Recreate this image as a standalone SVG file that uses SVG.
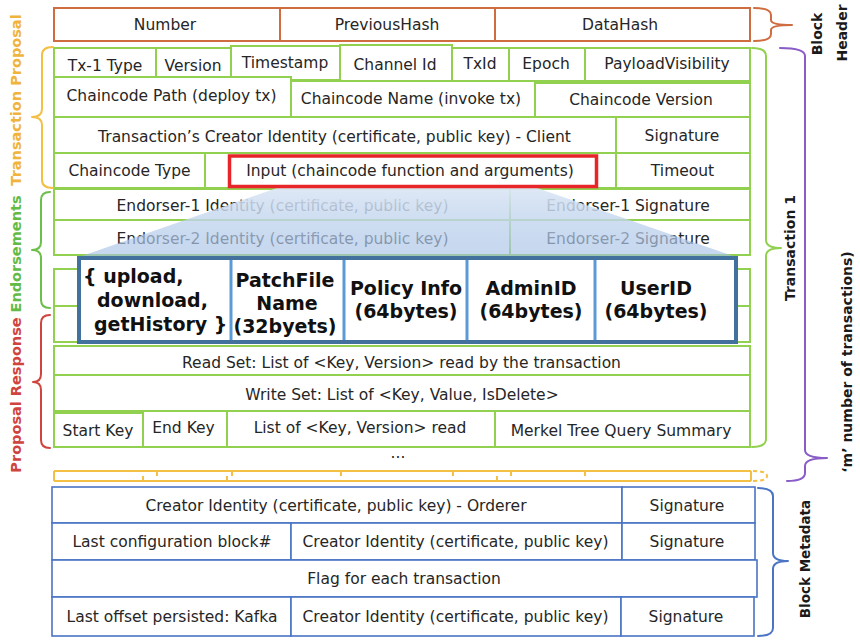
<svg xmlns="http://www.w3.org/2000/svg" width="860" height="642" viewBox="0 0 860 642">
<defs>
  <linearGradient id="zoomFill" x1="0" y1="0" x2="0" y2="1">
    <stop offset="0" stop-color="#dce7f5" stop-opacity="0.93"/>
    <stop offset="1" stop-color="#a3bfe5" stop-opacity="0.62"/>
  </linearGradient>
  <style>
    .cell{fill:#fff;stroke-width:2}
    .hdr{stroke:#cf6c40}
    .tx{stroke:#92d050}
    .meta{stroke:#4a74c4;stroke-width:1.6}
    text{font-family:"DejaVu Sans","Liberation Sans",sans-serif;font-size:15.5px;fill:#262626;text-anchor:middle}
    .big{font-weight:bold;font-size:19px;fill:#111}
    .st{text-anchor:start}
    .lbl{font-weight:bold;font-size:14.5px}
    .rl{font-weight:bold;font-size:14px;fill:#1a1a1a}
    .brace{fill:none;stroke-width:2;stroke-linecap:round;stroke-linejoin:round}
  </style>
</defs>
<rect width="860" height="642" fill="#fff"/>

<!-- Block header -->
<g id="block-header">
  <g id="hdr-number"><rect class="cell hdr" x="54" y="8" width="226" height="33"/><text x="165" y="30">Number</text></g>
  <g id="hdr-prevhash"><rect class="cell hdr" x="280" y="8" width="215" height="33"/><text x="387" y="30">PreviousHash</text></g>
  <g id="hdr-datahash"><rect class="cell hdr" x="495" y="8" width="255" height="33"/><text x="620" y="30">DataHash</text></g>
</g>

<!-- Transaction proposal -->
<g id="proposal">
  <g id="tx-type"><rect class="cell tx" x="54" y="48" width="102" height="32"/><text x="105" y="70.5">Tx-1 Type</text></g>
  <g id="tx-version"><rect class="cell tx" x="156" y="48" width="75" height="32"/><text x="193" y="70.5">Version</text></g>
  <g id="tx-txid"><rect class="cell tx" x="452" y="48" width="57" height="33"/><text x="480" y="69">TxId</text></g>
  <g id="tx-epoch"><rect class="cell tx" x="509" y="48" width="76" height="33"/><text x="546" y="69">Epoch</text></g>
  <g id="tx-payload"><rect class="cell tx" x="585" y="48" width="165" height="33"/><text x="667" y="69">PayloadVisibility</text></g>
  <g id="tx-timestamp"><rect class="cell tx" x="231" y="46" width="109" height="34"/><text x="285" y="68">Timestamp</text></g>
  <g id="tx-channel"><rect class="cell tx" x="340" y="45" width="112" height="37"/><text x="395" y="70">Channel Id</text></g>

  <g id="cc-path"><rect class="cell tx" x="54" y="77" width="237" height="40"/><text x="171.5" y="101">Chaincode Path (deploy tx)</text></g>
  <g id="cc-name"><rect class="cell tx" x="291" y="81" width="244" height="36"/><text x="411" y="104">Chaincode Name (invoke tx)</text></g>
  <g id="cc-version"><rect class="cell tx" x="535" y="83" width="215" height="34"/><text x="641" y="105">Chaincode Version</text></g>

  <g id="client-identity"><rect class="cell tx" x="54" y="117" width="562" height="36"/><text x="334.5" y="141.5">Transaction’s Creator Identity (certificate, public key) - Client</text></g>
  <g id="client-signature"><rect class="cell tx" x="616" y="117" width="134" height="36"/><text x="682" y="141">Signature</text></g>

  <g id="cc-type"><rect class="cell tx" x="54" y="153" width="151" height="35"/><text x="129.5" y="176">Chaincode Type</text></g>
  <g id="cc-input-cell"><rect class="cell tx" x="205" y="153" width="411" height="35"/></g>
  <g id="tx-timeout"><rect class="cell tx" x="616" y="153" width="134" height="35"/><text x="682.5" y="176">Timeout</text></g>
</g>

<!-- Endorsements -->
<g id="endorsements">
  <g id="endorser1-id"><rect class="cell tx" x="54" y="189" width="456" height="31"/><text x="282.5" y="210.5">Endorser-1 Identity (certificate, public key)</text></g>
  <g id="endorser1-sig"><rect class="cell tx" x="510" y="189" width="240" height="31"/><text x="628" y="210.5">Endorser-1 Signature</text></g>
  <g id="endorser2-id"><rect class="cell tx" x="54" y="220" width="456" height="35"/><text x="282.5" y="243.5">Endorser-2 Identity (certificate, public key)</text></g>
  <g id="endorser2-sig"><rect class="cell tx" x="510" y="220" width="240" height="35"/><text x="628" y="243.5">Endorser-2 Signature</text></g>
  <g id="endorse-row3"><rect class="cell tx" x="54" y="269" width="696" height="37"/></g>
  <g id="endorse-row4"><rect class="cell tx" x="54" y="306" width="696" height="36"/></g>
</g>

<!-- Magnified view of the chaincode input -->
<g id="input-zoom">
  <polygon points="277,188 537,188 736,257 79,257" fill="url(#zoomFill)"/>
  <g id="cc-input"><rect x="229.5" y="156" width="367" height="30.5" fill="none" stroke="#e8262a" stroke-width="3.5"/><text x="410" y="175.5">Input (chaincode function and arguments)</text></g>
  <g id="input-fields">
    <rect x="79" y="258" width="657" height="84" fill="#fff" stroke="#41719c" stroke-width="4"/>
    <g stroke="#5b9bd5" stroke-width="3">
      <line x1="231" y1="260" x2="231" y2="340"/>
      <line x1="344" y1="260" x2="344" y2="340"/>
      <line x1="467" y1="260" x2="467" y2="340"/>
      <line x1="595" y1="260" x2="595" y2="340"/>
    </g>
    <g id="fn-names"><text class="big st" x="83" y="283">{ upload,</text><text class="big st" x="97" y="307">download,</text><text class="big st" x="94" y="331">getHistory }</text></g>
    <g id="fn-patchfile"><text class="big" x="285" y="287">PatchFile</text><text class="big" x="287" y="310">Name</text><text class="big" x="285" y="333">(32byets)</text></g>
    <g id="fn-policy"><text class="big" x="406" y="295">Policy Info</text><text class="big" x="406" y="318">(64bytes)</text></g>
    <g id="fn-admin"><text class="big" x="531" y="295">AdminID</text><text class="big" x="531" y="318">(64bytes)</text></g>
    <g id="fn-user"><text class="big" x="656" y="295">UserID</text><text class="big" x="656" y="318">(64bytes)</text></g>
  </g>
</g>

<!-- Proposal response -->
<g id="response">
  <g id="read-set"><rect class="cell tx" x="54" y="346" width="696" height="29"/><text x="401.5" y="367.5">Read Set: List of &lt;Key, Version&gt; read by the transaction</text></g>
  <g id="write-set"><rect class="cell tx" x="54" y="375" width="696" height="36"/><text x="402" y="400">Write Set: List of &lt;Key, Value, IsDelete&gt;</text></g>
  <g id="end-key"><rect class="cell tx" x="143" y="411" width="84" height="36"/><text x="183.5" y="433">End Key</text></g>
  <g id="range-read"><rect class="cell tx" x="227" y="411" width="268" height="36"/><text x="360" y="433">List of &lt;Key, Version&gt; read</text></g>
  <g id="merkel"><rect class="cell tx" x="495" y="411" width="255" height="36"/><text x="621" y="436">Merkel Tree Query Summary</text></g>
  <g id="start-key"><rect class="cell tx" x="54" y="413" width="89" height="34"/><text x="98" y="436">Start Key</text></g>
  <text x="398" y="458">...</text>
</g>

<!-- Further transactions, collapsed -->
<g id="more-transactions" fill="none" stroke="#f3bf45" stroke-width="2">
  <path d="M54 471 H751 M54 481 H751 M54 471 V481 M751 471 V481"/>
  <path d="M157 471 V476 M232 471 V476 M341 471 V476 M453 471 V476 M511 471 V476 M585 471 V476 M143 481 V476 M227 481 V476 M497 481 V476"/>
  <path d="M753 471 Q767 471 767 476 Q767 481 753 481" stroke-dasharray="4 3"/>
</g>

<!-- Block metadata -->
<g id="block-metadata">
  <g id="orderer-identity"><rect class="cell meta" x="52" y="487" width="570" height="36"/><text x="336" y="511">Creator Identity (certificate, public key) - Orderer</text></g>
  <g id="orderer-signature"><rect class="cell meta" x="622" y="487" width="133" height="36"/><text x="687" y="511">Signature</text></g>
  <g id="last-config"><rect class="cell meta" x="52" y="523" width="239" height="37"/><text x="172" y="546.5">Last configuration block#</text></g>
  <g id="config-identity"><rect class="cell meta" x="291" y="523" width="331" height="37"/><text x="455.5" y="546.5">Creator Identity (certificate, public key)</text></g>
  <g id="config-signature"><rect class="cell meta" x="622" y="523" width="133" height="37"/><text x="687" y="546.5">Signature</text></g>
  <g id="tx-flags"><rect class="cell meta" x="52" y="560" width="705" height="37"/><text x="404" y="584">Flag for each transaction</text></g>
  <g id="last-offset"><rect class="cell meta" x="52" y="597" width="239" height="39"/><text x="172" y="621.5">Last offset persisted: Kafka</text></g>
  <g id="offset-identity"><rect class="cell meta" x="291" y="597" width="330" height="39"/><text x="455.5" y="621.5">Creator Identity (certificate, public key)</text></g>
  <g id="offset-signature"><rect class="cell meta" x="621" y="597" width="133" height="39"/><text x="686" y="621.5">Signature</text></g>
</g>

<!-- Grouping braces -->
<g id="braces">
  <path class="brace" stroke="#cf6c40" d="M754 8 Q771 8 771 15 L771 20 Q771 25 792 25 Q771 25 771 30 L771 34 Q771 41 754 41"/>
  <path class="brace" stroke="#92d050" d="M752 48 Q766 48 766 56 L766 240 Q766 248 781 248 Q766 248 766 256 L766 439 Q766 447 752 447"/>
  <path class="brace" stroke="#8a5cc7" d="M780 48 Q805 48 805 56 L805 450 Q805 458 827 458 Q805 458 805 466 L805 473 Q805 481 787 481"/>
  <path class="brace" stroke="#4a74c4" d="M758 488 Q773 488 773 496 L773 553 Q773 561 788 561 Q773 561 773 569 L773 628 Q773 636 758 636"/>
  <path class="brace" stroke="#f3bf45" d="M53 47 Q42 47 42 55 L42 109 Q42 117 32 117 Q42 117 42 125 L42 180 Q42 188 53 188"/>
  <path class="brace" stroke="#6cbf4a" d="M50 192 Q41 192 41 200 L41 242 Q41 250 32 250 Q41 250 41 258 L41 300 Q41 308 50 308"/>
  <path class="brace" stroke="#d0443e" d="M50 315 Q41 315 41 323 L41 374 Q41 382 33 382 Q41 382 41 390 L41 440 Q41 448 50 448"/>
</g>

<!-- Section labels -->
<g id="labels">
  <text class="lbl" fill="#f0b43c" style="fill:#f0b43c" transform="translate(21,100) rotate(-90)">Transaction Proposal</text>
  <text class="lbl" style="fill:#63ba45" transform="translate(21,254) rotate(-90)">Endorsements</text>
  <text class="lbl" style="fill:#d0443e" transform="translate(21,395) rotate(-90)">Proposal Response</text>
  <text class="rl" transform="translate(822,34) rotate(-90)">Block</text>
  <text class="rl" transform="translate(847,33) rotate(-90)">Header</text>
  <text class="rl" transform="translate(795,248) rotate(-90)">Transaction 1</text>
  <text class="rl" transform="translate(852,362) rotate(-90)">‘m’ number of transactions)</text>
  <text class="rl" style="font-size:13.5px" transform="translate(810,559) rotate(-90)">Block Metadata</text>
</g>
</svg>
